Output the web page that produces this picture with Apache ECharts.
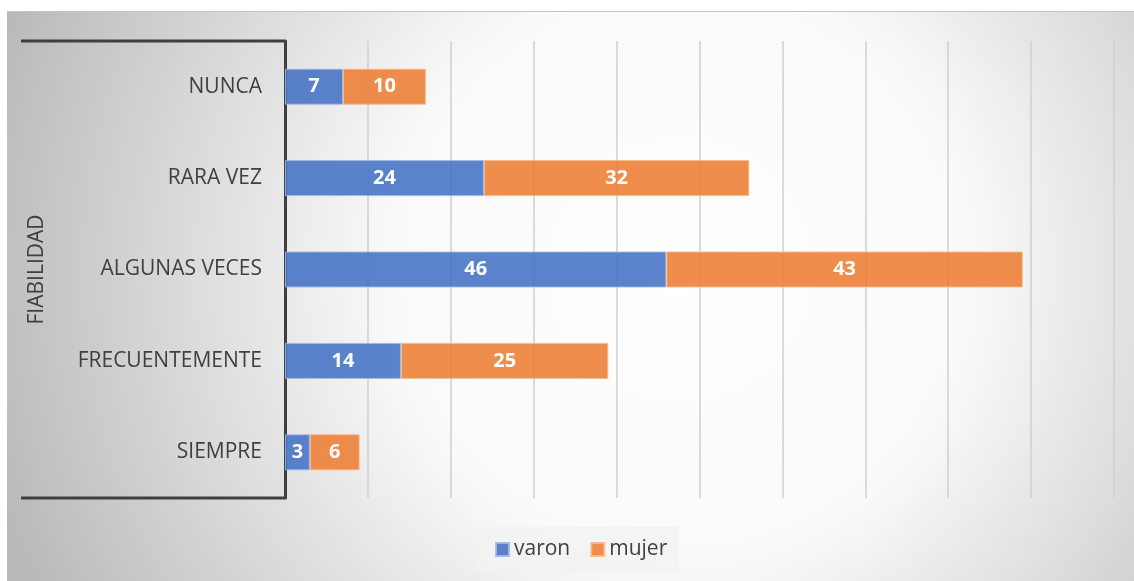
<!DOCTYPE html>
<html>
<head>
<meta charset="utf-8">
<style>
  html, body { margin: 0; padding: 0; background: #ffffff; }
  #chart { width: 1134px; height: 581px; }
</style>
<script src="https://cdn.jsdelivr.net/npm/echarts@6/dist/echarts.min.js"></script>
</head>
<body>
<div id="chart"></div>
<script>
// Responses by frequency, split by sex
const categories = ['NUNCA', 'RARA VEZ', 'ALGUNAS VECES', 'FRECUENTEMENTE', 'SIEMPRE'];
const varon = [7, 24, 46, 14, 3];
const mujer = [10, 32, 43, 25, 6];
const seriesNames = ['varon', 'mujer'];
const axisTitle = 'FIABILIDAD';

const W = 1134, H = 581;
const GRID = { left: 285, right: 20, top: 41, bottom: 83 };
const FONT = '"Open Sans", "Liberation Sans", sans-serif';

const chart = echarts.init(document.getElementById('chart'), null, { renderer: 'canvas' });

const labelStyle = {
  show: true,
  position: 'inside',
  color: '#ffffff',
  fontFamily: FONT,
  fontWeight: 'bold',
  fontSize: 20
};

// Bracket of the outer category level (top and bottom edges)
const bracketLeft = 21;
const bracketTop = GRID.top;
const bracketBottom = H - GRID.bottom;
const bracketStyle = { stroke: '#3f3f3f', lineWidth: 3 };

chart.setOption({
  backgroundColor: '#ffffff',
  animation: false,
  graphic: [
    {
      type: 'rect', z: -10, silent: true,
      shape: { x: 7, y: 11, width: W - 7, height: H - 11 },
      style: {
        fill: {
          type: 'radial', x: 680, y: 270, r: 720, global: true,
          colorStops: [
            { offset: 0, color: '#ffffff' },
            { offset: 0.4, color: '#fafafa' },
            { offset: 1, color: '#b9b9b9' }
          ]
        }
      }
    },
    {
      type: 'line', z: -9, silent: true,
      shape: { x1: 7, y1: 11.5, x2: W, y2: 11.5 },
      style: { stroke: '#c4c4c4', lineWidth: 1 }
    },
    {
      type: 'line', z: 10, silent: true,
      shape: { x1: bracketLeft, y1: bracketTop, x2: GRID.left, y2: bracketTop },
      style: bracketStyle
    },
    {
      type: 'line', z: 10, silent: true,
      shape: { x1: bracketLeft, y1: bracketBottom, x2: GRID.left, y2: bracketBottom },
      style: bracketStyle
    },
    {
      type: 'text', z: 10, silent: true,
      x: 37, y: (bracketTop + bracketBottom) / 2,
      rotation: Math.PI / 2,
      style: {
        text: axisTitle,
        fill: '#404040',
        font: '21px ' + FONT,
        align: 'center',
        verticalAlign: 'middle'
      }
    }
  ],
  legend: {
    data: seriesNames,
    left: 475,
    top: 527,
    padding: [12, 12, 12, 20],
    backgroundColor: 'rgba(242,242,242,0.75)',
    itemWidth: 13,
    itemHeight: 13,
    itemGap: 20,
    icon: 'rect',
    textStyle: { color: '#404040', fontSize: 21, fontFamily: FONT }
  },
  grid: { left: GRID.left, right: GRID.right, top: GRID.top, bottom: GRID.bottom, containLabel: false },
  xAxis: {
    type: 'value',
    min: 0,
    max: 100,
    interval: 10,
    axisLine: { show: false },
    axisTick: { show: false },
    axisLabel: { show: false },
    splitLine: { show: true, lineStyle: { color: '#cfcfcf', width: 1.5 } }
  },
  yAxis: {
    type: 'category',
    data: categories,
    inverse: true,
    axisLine: { show: true, lineStyle: { color: '#3f3f3f', width: 3 } },
    axisTick: { show: false },
    axisLabel: {
      color: '#404040',
      fontSize: 21,
      fontFamily: FONT,
      margin: 23
    },
    splitLine: { show: false }
  },
  series: [
    {
      name: seriesNames[0],
      type: 'bar',
      stack: 'total',
      data: varon,
      barWidth: 36,
      itemStyle: { color: 'rgba(68,114,196,0.88)', borderColor: 'rgba(160,185,230,0.9)', borderWidth: 1 },
      label: labelStyle
    },
    {
      name: seriesNames[1],
      type: 'bar',
      stack: 'total',
      data: mujer,
      barWidth: 36,
      itemStyle: { color: 'rgba(237,125,49,0.87)', borderColor: 'rgba(246,185,140,0.9)', borderWidth: 1 },
      label: labelStyle
    }
  ]
});
</script>
</body>
</html>
